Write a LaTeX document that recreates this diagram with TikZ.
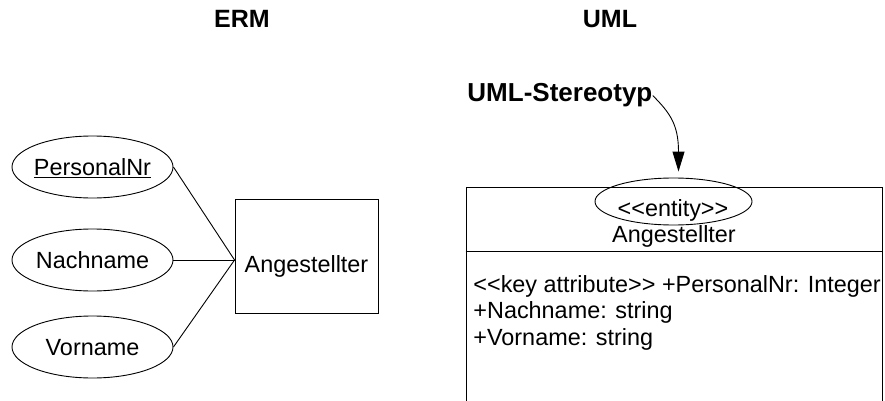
\documentclass[tikz,border=0pt]{standalone}
\usepackage{fontspec}
\setmainfont{Liberation Sans}[Ligatures=TeXOff]
\usetikzlibrary{shapes.geometric, arrows.meta}

\tikzset{
  attr/.style={draw, ellipse, minimum width=161pt, minimum height=62pt, inner xsep=-6pt, inner ysep=0pt,
    text height=17pt, text depth=0pt, font=\fontsize{23.4}{27}\selectfont},
  txt/.style={inner sep=0pt, font=\fontsize{23.4}{27}\selectfont},
  heading/.style={inner sep=0pt, font=\fontsize{25}{30}\selectfont\bfseries}
}

\begin{document}
\begin{tikzpicture}[x=1pt, y=-1pt, line width=0.9pt]
  \useasboundingbox (0,0) rectangle (885,401);
  \node[heading, anchor=base] (erm) at (242, 28) {ERM};
  \node[heading, anchor=base] (uml) at (610, 28) {UML};

  % ERM
  \node[attr] (pnr) at (92.5, 167) {\underline{PersonalNr}};
  \node[attr] (nach) at (92.5, 260) {Nachname};
  \node[attr] (vor) at (92.5, 347) {Vorname};
  \node[draw, minimum width=143pt, minimum height=114pt] (ent) at (306.5, 256) {};
  \node[txt, anchor=base] (entname) at (306.5, 272) {Angestellter};
  \draw (pnr.east) -- ([yshift=-4pt]ent.west);
  \draw (nach.east) -- ([yshift=-4pt]ent.west);
  \draw (vor.east) -- ([yshift=-4pt]ent.west);

  % UML
  \node[draw, minimum width=416pt, minimum height=243pt] (cls) at (674, 308.5) {};
  \draw ([yshift=-65pt]cls.north west) -- ([yshift=-65pt]cls.north east);
  \node[draw, ellipse, minimum width=157pt, minimum height=47pt] (stereo) at (673.5, 201.5) {};
  \node[txt, anchor=base] (stype) at (673, 216) {<<entity>>};
  \node[txt, anchor=base] (clsname) at (674, 242) {Angestellter};
  \node[txt, anchor=base west] (key) at (473, 292) {<<key attribute>> +PersonalNr: Integer};
  \node[txt, anchor=base west] (nname) at (473, 318.5) {+Nachname: string};
  \node[txt, anchor=base west] (vname) at (473, 345) {+Vorname: string};

  \node[heading, font=\fontsize{26}{30}\selectfont\bfseries, anchor=base west] (stlabel) at (467, 102) {UML-Stereotyp};
  \draw[-{Triangle[length=20pt, width=12pt]}] (stlabel.east) .. controls +(17,17) and +(0,-47) .. ([xshift=5pt, yshift=6pt]stereo.north);
\end{tikzpicture}
\end{document}
